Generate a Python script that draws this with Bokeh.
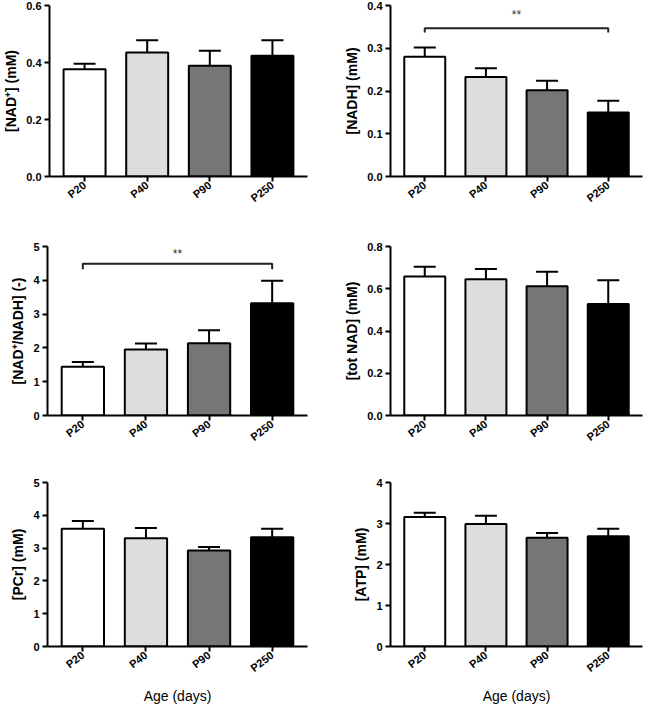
import numpy as np
from bokeh.plotting import figure
from bokeh.models import (ColumnDataSource, FactorRange, FixedTicker,
                          PrintfTickFormatter, Whisker, TeeHead, Range1d)
from bokeh.transform import dodge
from bokeh.layouts import column, row
from bokeh.embed import file_html
from bokeh.resources import INLINE
from bokeh.core.properties import value

# ---------------- data ----------------
categories = ["P20", "P40", "P90", "P250"]
bar_colors = ["#ffffff", "#dddddd", "#767676", "#000000"]

nad_mean = [0.376, 0.435, 0.389, 0.424]
nad_sem = [0.020, 0.043, 0.052, 0.054]

nadh_mean = [0.280, 0.233, 0.202, 0.150]
nadh_sem = [0.022, 0.020, 0.022, 0.027]

ratio_mean = [1.44, 1.95, 2.14, 3.32]
ratio_sem = [0.14, 0.18, 0.38, 0.67]

totnad_mean = [0.658, 0.645, 0.612, 0.528]
totnad_sem = [0.046, 0.049, 0.069, 0.112]

pcr_mean = [3.59, 3.30, 2.93, 3.33]
pcr_sem = [0.24, 0.31, 0.10, 0.26]

atp_mean = [3.16, 2.99, 2.65, 2.69]
atp_sem = [0.10, 0.20, 0.12, 0.18]

nad_ticks = [0.0, 0.2, 0.4, 0.6]
nadh_ticks = [0.0, 0.1, 0.2, 0.3, 0.4]
ratio_ticks = [0, 1, 2, 3, 4, 5]
totnad_ticks = [0.0, 0.2, 0.4, 0.6, 0.8]
pcr_ticks = [0, 1, 2, 3, 4, 5]
atp_ticks = [0, 1, 2, 3, 4]

# significance brackets: (from, to, bracket level, drop, star level, text)
nadh_sig = ("P20", "P250", 0.347, 0.010, 0.377, "**")
ratio_sig = ("P20", "P250", 4.49, 0.16, 4.79, "**")

x_label_text = "Age (days)"

FONT = "Liberation Sans"


def panel(ylabel, mean, sem, ticks, fmt, width, height, bl, bt, bb, br,
          xlabel=None, sig=None):
    p = figure(x_range=FactorRange(*categories, range_padding=0.03),
               y_range=Range1d(0, ticks[-1]),
               width=width, height=height, output_backend="svg",
               toolbar_location=None, min_border_left=bl, min_border_top=bt,
               min_border_bottom=bb, min_border_right=br)
    upper = [m + s for m, s in zip(mean, sem)]
    src = ColumnDataSource(dict(cat=categories, mean=mean, upper=upper,
                                color=bar_colors))
    p.vbar(x="cat", top="mean", bottom=0, width=0.67, source=src,
           fill_color="color", line_color="black", line_width=2)
    w = Whisker(base="cat", lower="mean", upper="upper", source=src,
                line_color="black", line_width=2, lower_head=None,
                upper_head=TeeHead(size=22, line_color="black", line_width=2))
    p.add_layout(w)

    if sig is not None:
        a, b, lvl, drop, slvl, txt = sig
        p.line(x=[a, a, b, b], y=[lvl - drop, lvl, lvl, lvl - drop],
               line_color="#222222", line_width=2)
        ssrc = ColumnDataSource(dict(x=[categories[1]], y=[slvl], t=[txt]))
        p.text(x=dodge("x", 0.5, range=p.x_range), y="y", text="t",
               source=ssrc, text_align="center", text_baseline="middle",
               text_font=value(FONT), text_font_size="12px",
               text_color="#333333")

    p.xgrid.grid_line_color = None
    p.ygrid.grid_line_color = None
    p.outline_line_color = None

    for ax in (p.xaxis[0], p.yaxis[0]):
        ax.axis_line_width = 2
        ax.axis_line_color = "black"
        ax.major_tick_line_width = 2
        ax.major_tick_line_color = "black"
        ax.major_tick_out = 5
        ax.major_tick_in = 0
        ax.minor_tick_line_color = None
        ax.major_label_text_font = FONT
        ax.major_label_text_font_style = "bold"
        ax.major_label_text_font_size = "11px"
        ax.major_label_text_color = "black"
        ax.major_label_standoff = 3

    p.xaxis.major_label_standoff = 2
    p.yaxis.ticker = FixedTicker(ticks=ticks)
    p.yaxis.formatter = PrintfTickFormatter(format=fmt)
    p.yaxis.axis_label = ylabel
    p.yaxis.axis_label_text_font = FONT
    p.yaxis.axis_label_text_font_style = "bold"
    p.yaxis.axis_label_text_font_size = "14px"
    p.yaxis.axis_label_text_color = "black"
    p.yaxis.axis_label_standoff = 4

    p.xaxis.major_label_orientation = 0.66
    if xlabel:
        p.xaxis.axis_label = xlabel
        p.xaxis.axis_label_text_font = FONT
        p.xaxis.axis_label_text_font_style = "normal"
        p.xaxis.axis_label_text_font_size = "14px"
        p.xaxis.axis_label_text_color = "black"
        p.xaxis.axis_label_standoff = 6
    return p


W = 322
LB, LR = 47, 15
RB, RR = 68, 2

p1 = panel("[NAD\u207a] (mM)", nad_mean, nad_sem, nad_ticks, "%.1f",
           W, 224, LB, 5, 48, LR)
p2 = panel("[NADH] (mM)", nadh_mean, nadh_sem, nadh_ticks, "%.1f",
           W, 224, RB, 5, 48, RR, sig=nadh_sig)
p3 = panel("[NAD\u207a/NADH] (-)", ratio_mean, ratio_sem, ratio_ticks, "%d",
           W, 232, LB, 22, 41, LR, sig=ratio_sig)
p4 = panel("[tot NAD] (mM)", totnad_mean, totnad_sem, totnad_ticks, "%.1f",
           W, 232, RB, 22, 41, RR)
p5 = panel("[PCr] (mM)", pcr_mean, pcr_sem, pcr_ticks, "%d",
           W, 250, LB, 26, 58, LR, xlabel=x_label_text)
p6 = panel("[ATP] (mM)", atp_mean, atp_sem, atp_ticks, "%d",
           W, 250, RB, 26, 58, RR, xlabel=x_label_text)

layout = column(row(p1, p2), row(p3, p4), row(p5, p6))

open("out.html", "w").write(file_html(layout, INLINE))
